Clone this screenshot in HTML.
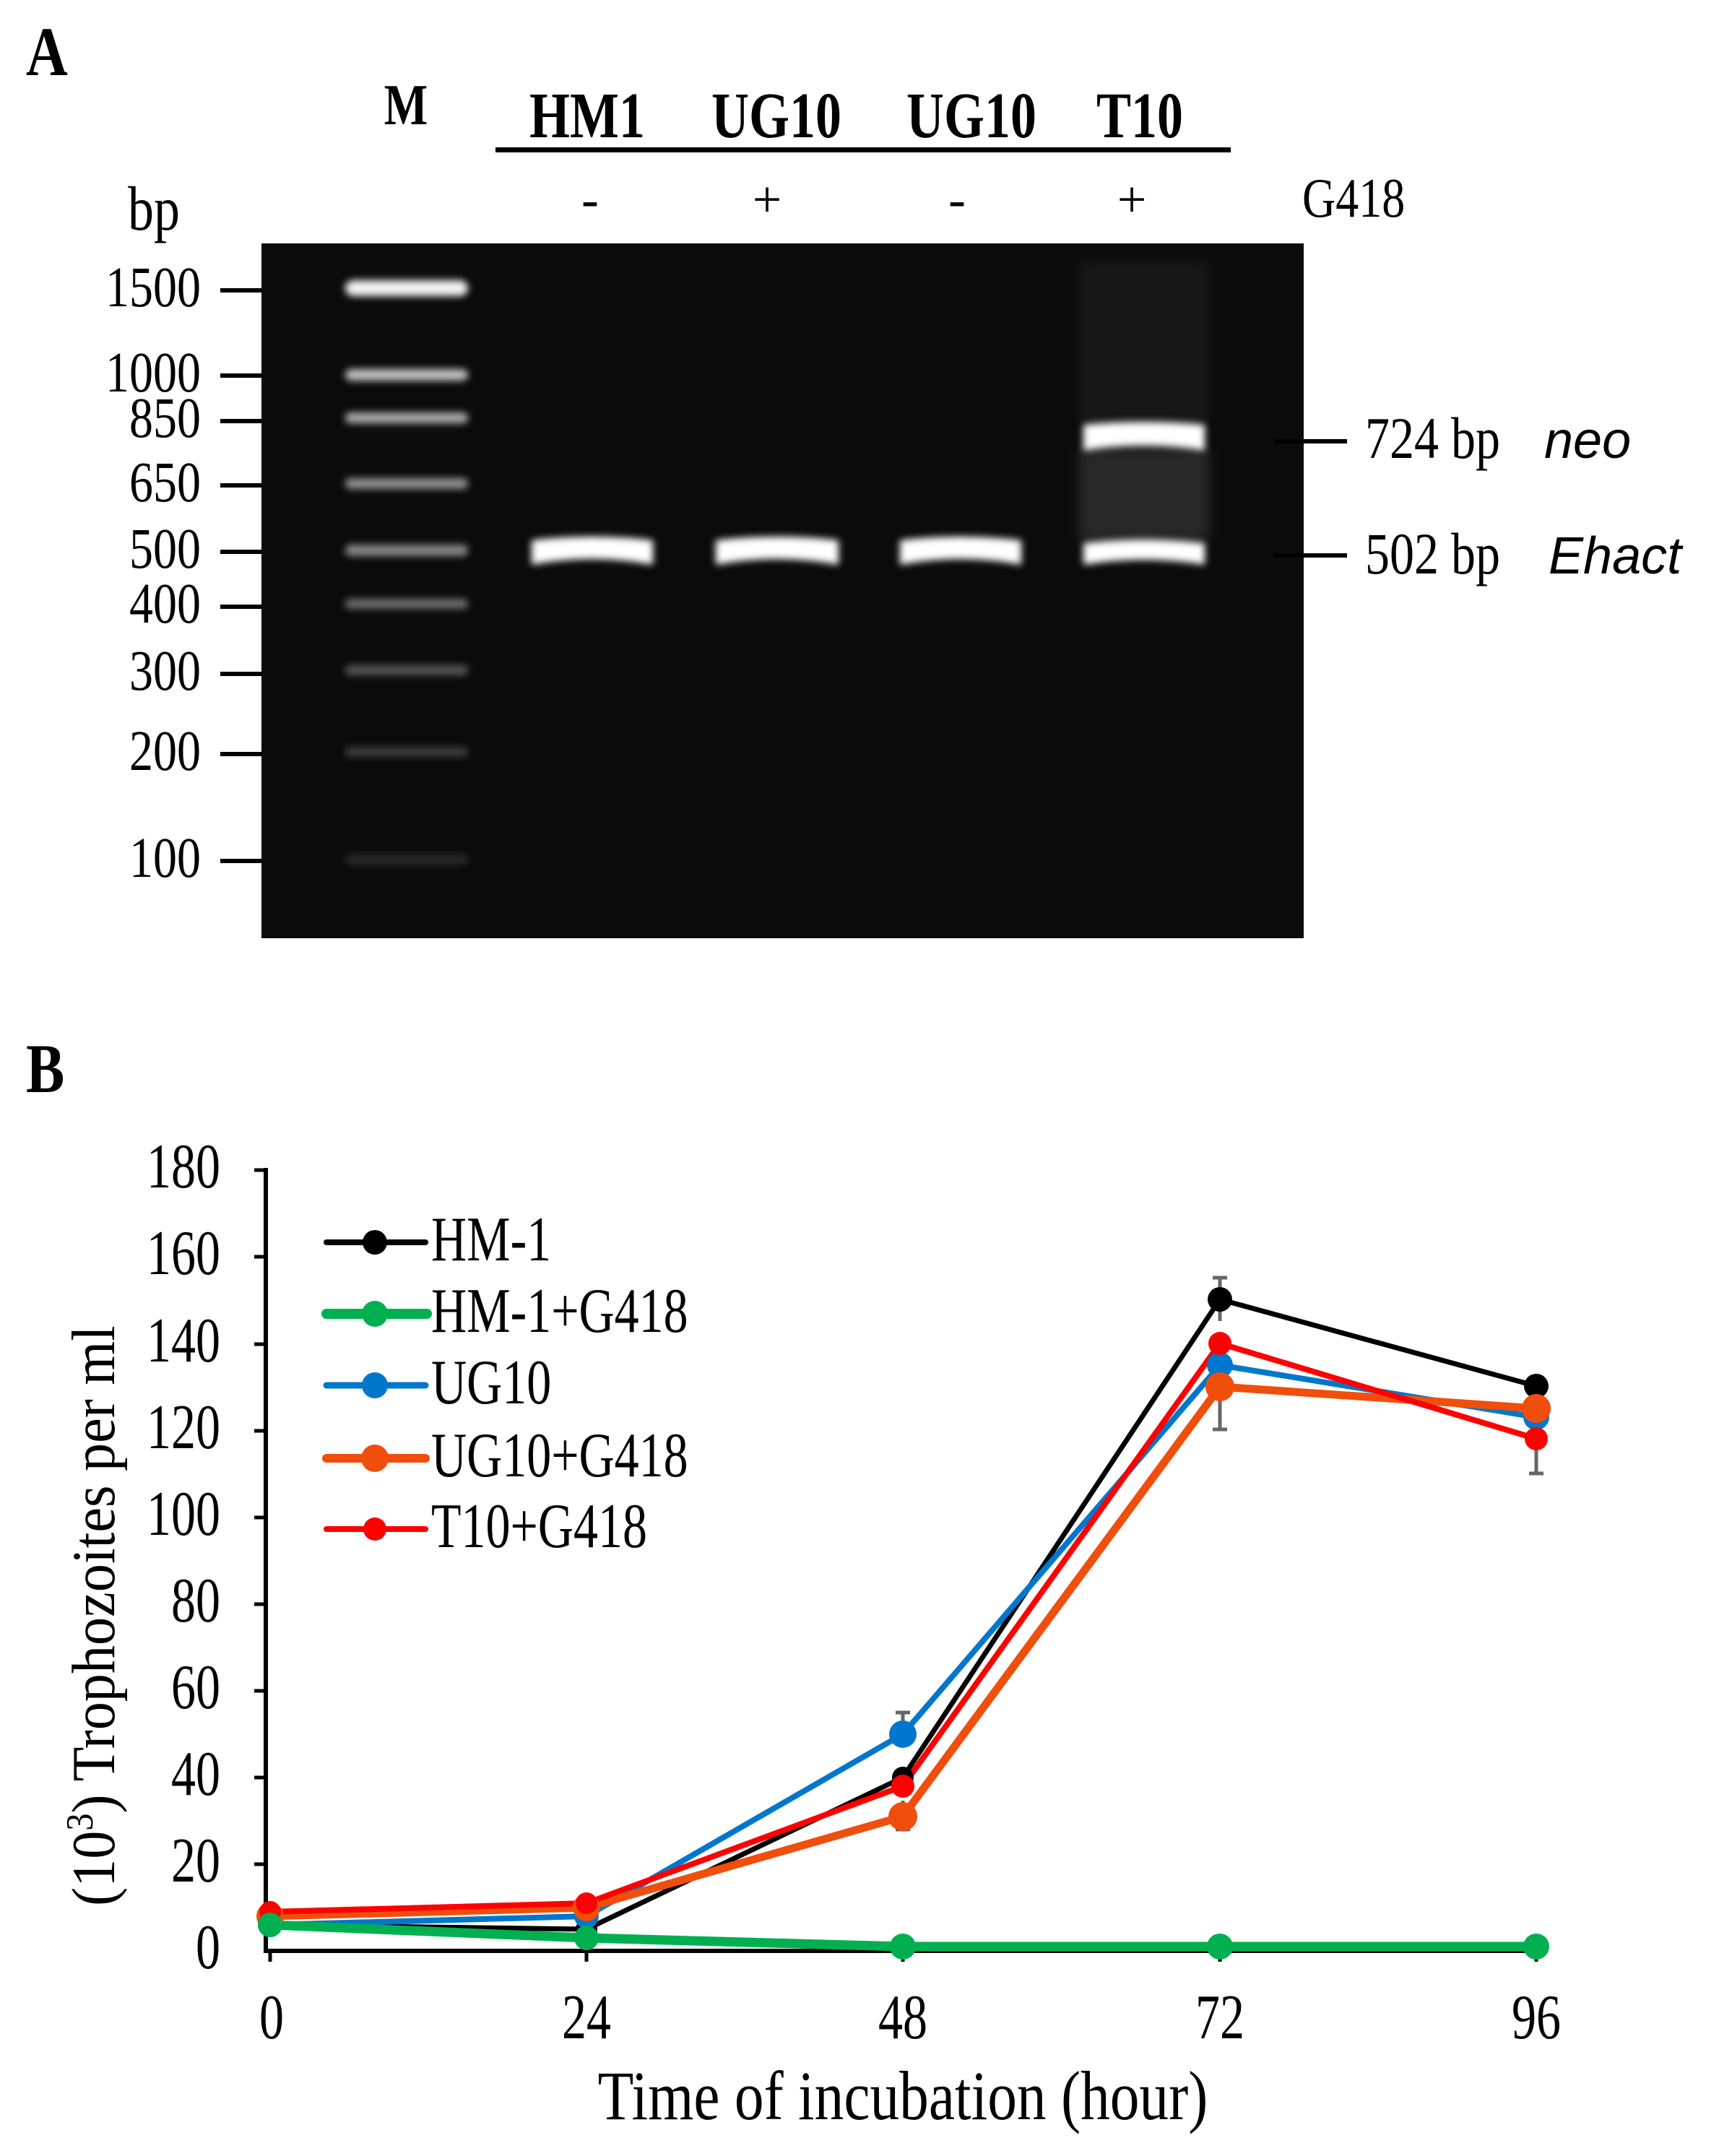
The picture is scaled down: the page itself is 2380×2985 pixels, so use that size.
<!DOCTYPE html>
<html><head><meta charset="utf-8"><style>html,body{margin:0;padding:0;background:#fff}svg{display:block}</style></head>
<body>
<svg width="2380" height="2985" viewBox="0 0 2380 2985" xmlns="http://www.w3.org/2000/svg" font-family="Liberation Serif, serif">
<defs>
<filter id="bl" x="-20%" y="-100%" width="140%" height="300%"><feGaussianBlur stdDeviation="5"/></filter>
<filter id="bl2" x="-20%" y="-200%" width="140%" height="500%"><feGaussianBlur stdDeviation="9"/></filter>
</defs>
<text transform="translate(36 104) scale(1 1.2)" font-size="80" font-weight="bold">A</text>
<text transform="translate(562 172) scale(1 1.25)" font-size="64" font-weight="bold" text-anchor="middle">M</text>
<g font-size="72" font-weight="bold" text-anchor="middle">
<text transform="translate(813 190) scale(1 1.25)">HM1</text><text transform="translate(1075 190) scale(1 1.25)">UG10</text><text transform="translate(1345 190) scale(1 1.25)">UG10</text><text transform="translate(1578 190) scale(1 1.25)">T10</text></g>
<rect x="686" y="204" width="1018" height="7" fill="#000"/>
<g font-size="72" text-anchor="middle"><text x="817" y="300">-</text><text x="1062" y="300">+</text><text x="1325" y="300">-</text><text x="1567" y="300">+</text></g>
<text transform="translate(1803 300) scale(1 1.2)" font-size="64">G418</text>
<text transform="translate(177 318) scale(1 1.2)" font-size="72">bp</text>
<rect x="362" y="337" width="1443" height="962" fill="#0b0b0b"/>
<g fill="#fff" filter="url(#bl)">
<rect x="478" y="388" width="170" height="22" rx="11" opacity="0.95"/>
<rect x="478" y="511" width="170" height="16" rx="8" opacity="0.75"/>
<rect x="478" y="571" width="170" height="15" rx="7" opacity="0.65"/>
<rect x="478" y="662" width="170" height="15" rx="7" opacity="0.55"/>
<rect x="478" y="754" width="170" height="16" rx="7" opacity="0.5"/>
<rect x="478" y="829" width="170" height="14" rx="6" opacity="0.4"/>
<rect x="478" y="921" width="170" height="14" rx="6" opacity="0.3"/>
<rect x="478" y="1034" width="170" height="14" rx="6" opacity="0.2"/>
<rect x="478" y="1183" width="170" height="14" rx="6" opacity="0.12"/>
<path d="M736 748 Q820 738 904 748 L904 782 Q820 766 736 782Z"/>
<path d="M991 748 Q1076 738 1161 748 L1161 782 Q1076 766 991 782Z"/>
<path d="M1246 748 Q1330 738 1414 748 L1414 782 Q1330 766 1246 782Z"/>
<path d="M1500 752 Q1584 742 1668 752 L1668 782 Q1584 768 1500 782Z"/>
<path d="M1500 588 Q1584 580 1668 588 L1668 624 Q1584 610 1500 624Z"/>
</g>
<rect x="1494" y="620" width="180" height="130" fill="#fff" opacity="0.12" filter="url(#bl2)"/>
<rect x="1494" y="360" width="180" height="230" fill="#fff" opacity="0.05" filter="url(#bl2)"/>
<g font-size="66" text-anchor="end">
<text transform="translate(278 424) scale(1 1.2)">1500</text><text transform="translate(278 542) scale(1 1.2)">1000</text><text transform="translate(278 605) scale(1 1.2)">850</text><text transform="translate(278 694) scale(1 1.2)">650</text><text transform="translate(278 786) scale(1 1.2)">500</text><text transform="translate(278 862) scale(1 1.2)">400</text><text transform="translate(278 955) scale(1 1.2)">300</text><text transform="translate(278 1066) scale(1 1.2)">200</text><text transform="translate(278 1214) scale(1 1.2)">100</text></g>
<g stroke="#000" stroke-width="6">
<line x1="305" y1="402" x2="362" y2="402"/><line x1="305" y1="520" x2="362" y2="520"/><line x1="305" y1="583" x2="362" y2="583"/><line x1="305" y1="672" x2="362" y2="672"/><line x1="305" y1="764" x2="362" y2="764"/><line x1="305" y1="840" x2="362" y2="840"/><line x1="305" y1="933" x2="362" y2="933"/><line x1="305" y1="1044" x2="362" y2="1044"/><line x1="305" y1="1192" x2="362" y2="1192"/>
<line x1="1763" y1="611" x2="1865" y2="611"/><line x1="1763" y1="769" x2="1865" y2="769"/></g>
<text transform="translate(1890 634) scale(1 1.2)" font-size="68">724 bp</text><text x="2138" y="634" font-size="72" font-style="italic" font-family="Liberation Sans, sans-serif">neo</text>
<text transform="translate(1890 794) scale(1 1.2)" font-size="68">502 bp</text><text x="2144" y="794" font-size="72" font-style="italic" font-family="Liberation Sans, sans-serif">Ehact</text>

<text transform="translate(36 1512) scale(1 1.2)" font-size="80" font-weight="bold">B</text>
<g stroke="#000" stroke-width="6" fill="none">
<line x1="368" y1="1617" x2="368" y2="2704"/><line x1="365" y1="2701" x2="2130" y2="2701"/>
</g>
<g stroke="#000" stroke-width="5">
<line x1="352" y1="1620" x2="368" y2="1620"/><line x1="352" y1="1740" x2="368" y2="1740"/><line x1="352" y1="1861" x2="368" y2="1861"/><line x1="352" y1="1981" x2="368" y2="1981"/><line x1="352" y1="2101" x2="368" y2="2101"/><line x1="352" y1="2221" x2="368" y2="2221"/><line x1="352" y1="2341" x2="368" y2="2341"/><line x1="352" y1="2461" x2="368" y2="2461"/><line x1="352" y1="2581" x2="368" y2="2581"/>
<line x1="374" y1="2701" x2="374" y2="2716"/><line x1="812" y1="2701" x2="812" y2="2716"/><line x1="1250" y1="2701" x2="1250" y2="2716"/><line x1="1689" y1="2701" x2="1689" y2="2716"/><line x1="2127" y1="2701" x2="2127" y2="2716"/></g>
<g font-size="68" text-anchor="end">
<text transform="translate(305 1644) scale(1 1.3)">180</text><text transform="translate(305 1764) scale(1 1.3)">160</text><text transform="translate(305 1885) scale(1 1.3)">140</text><text transform="translate(305 2005) scale(1 1.3)">120</text><text transform="translate(305 2125) scale(1 1.3)">100</text><text transform="translate(305 2245) scale(1 1.3)">80</text><text transform="translate(305 2365) scale(1 1.3)">60</text><text transform="translate(305 2485) scale(1 1.3)">40</text><text transform="translate(305 2605) scale(1 1.3)">20</text><text transform="translate(305 2725) scale(1 1.3)">0</text></g>
<g font-size="68" text-anchor="middle">
<text transform="translate(376 2822) scale(1 1.3)">0</text><text transform="translate(812 2822) scale(1 1.3)">24</text><text transform="translate(1250 2822) scale(1 1.3)">48</text><text transform="translate(1689 2822) scale(1 1.3)">72</text><text transform="translate(2127 2822) scale(1 1.3)">96</text></g>
<text transform="translate(1250 2934) scale(1.1 1.3)" font-size="74" text-anchor="middle">Time of incubation (hour)</text>
<text transform="translate(158 2237) rotate(-90) scale(1.15 1.25)" font-size="68" text-anchor="middle">(10<tspan font-size="42" dy="-24">3</tspan><tspan dy="24">)  Trophozoites per ml</tspan></text>
<g stroke="#666" stroke-width="5" fill="none">
<path d="M1679 1769h20M1689 1769v60M1679 1979h20M1689 1979v-100M1679 1883h20"/>
<path d="M2117 1941h20M2127 1941v90M2117 2040h20M2127 2040v-40"/>
<path d="M1240 2371h20M1250 2371v40M1240 2533h20M1250 2533v-40"/>
</g>
<polyline points="374,2665 812,2671 1250,2461 1689,1799 2127,1919" fill="none" stroke="#000" stroke-width="7"/>
<polyline points="374,2665 812,2653 1250,2401 1689,1890 2127,1962" fill="none" stroke="#0077cc" stroke-width="8"/>
<polyline points="374,2653 812,2641 1250,2515 1689,1920 2127,1950" fill="none" stroke="#f04e0c" stroke-width="11"/>
<polyline points="374,2647 812,2635 1250,2473 1689,1860 2127,1992" fill="none" stroke="#ff0000" stroke-width="8"/>
<polyline points="374,2665 812,2683 1250,2695 1689,2695 2127,2695" fill="none" stroke="#00b050" stroke-width="13"/>
<g fill="#000"><circle cx="374" cy="2665" r="15"/><circle cx="812" cy="2671" r="15"/><circle cx="1250" cy="2461" r="15"/><circle cx="1689" cy="1799" r="17"/><circle cx="2127" cy="1919" r="17"/></g>
<g fill="#0077cc"><circle cx="374" cy="2665" r="17"/><circle cx="812" cy="2653" r="17"/><circle cx="1250" cy="2401" r="19"/><circle cx="1689" cy="1890" r="18"/><circle cx="2127" cy="1962" r="18"/></g>
<g fill="#f04e0c"><circle cx="374" cy="2653" r="19"/><circle cx="812" cy="2641" r="19"/><circle cx="1250" cy="2515" r="20"/><circle cx="1689" cy="1920" r="20"/><circle cx="2127" cy="1950" r="20"/></g>
<g fill="#ff0000"><circle cx="374" cy="2647" r="15"/><circle cx="812" cy="2635" r="15"/><circle cx="1250" cy="2473" r="16"/><circle cx="1689" cy="1860" r="16"/><circle cx="2127" cy="1992" r="16"/></g>
<g fill="#00b050"><circle cx="374" cy="2665" r="17"/><circle cx="812" cy="2683" r="17"/><circle cx="1250" cy="2695" r="18"/><circle cx="1689" cy="2695" r="18"/><circle cx="2127" cy="2695" r="18"/></g>
<g stroke-linecap="round">
<line x1="452" y1="1720" x2="589" y2="1720" stroke="#000" stroke-width="8"/><circle cx="519" cy="1720" r="17" fill="#000"/>
<line x1="452" y1="1819" x2="591" y2="1819" stroke="#00b050" stroke-width="14"/><circle cx="519" cy="1819" r="18" fill="#00b050"/>
<line x1="452" y1="1918" x2="589" y2="1918" stroke="#0077cc" stroke-width="9"/><circle cx="519" cy="1918" r="18" fill="#0077cc"/>
<line x1="452" y1="2019" x2="589" y2="2019" stroke="#f04e0c" stroke-width="12"/><circle cx="519" cy="2019" r="19" fill="#f04e0c"/>
<line x1="452" y1="2117" x2="589" y2="2117" stroke="#ff0000" stroke-width="8"/><circle cx="519" cy="2117" r="16" fill="#ff0000"/>
</g>
<g font-size="68">
<text transform="translate(597 1745) scale(1 1.3)">HM-1</text><text transform="translate(597 1844) scale(1 1.3)">HM-1+G418</text><text transform="translate(597 1943) scale(1 1.3)">UG10</text><text transform="translate(597 2044) scale(1 1.3)">UG10+G418</text><text transform="translate(597 2142) scale(1 1.3)">T10+G418</text></g>
</svg>
</body></html>
